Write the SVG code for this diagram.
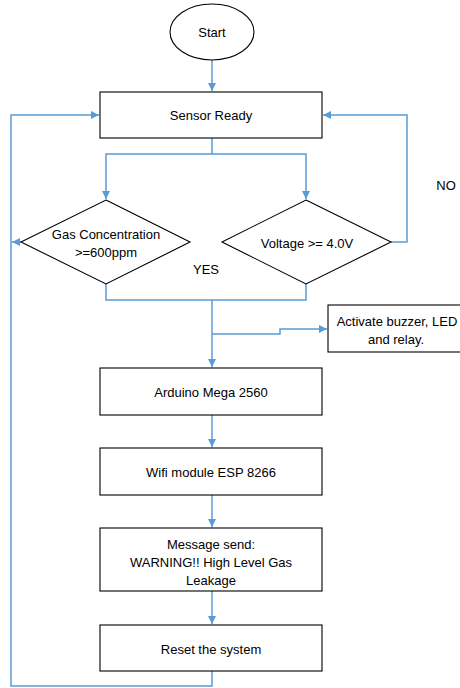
<svg xmlns="http://www.w3.org/2000/svg" width="460" height="688" viewBox="0 0 460 688">
<style>
.n{fill:#fff;stroke:#000;stroke-width:1.1}
.t{font-family:"Liberation Sans",Arial,sans-serif;font-size:13px;fill:#000;text-anchor:middle;dominant-baseline:central}
.c{fill:none;stroke:#5B9BD5;stroke-width:1.5}
</style>
<defs>
<marker id="a" viewBox="0 0 10 10" refX="10" refY="5" markerWidth="8" markerHeight="8" markerUnits="userSpaceOnUse" orient="auto">
<path d="M0,0 L10,5 L0,10 Z" fill="#5B9BD5"/>
</marker>
</defs>
<rect width="460" height="688" fill="#fff"/>
<g id="connectors">
<path class="c" d="M212,60 V91" marker-end="url(#a)"/>
<path class="c" d="M212,138 V154 H106 V199" marker-end="url(#a)"/>
<path class="c" d="M212,154 H306 V199" marker-end="url(#a)"/>
<path class="c" d="M21,242 H12" marker-end="url(#a)"/>
<path class="c" d="M391,242 H407 V115 H323" marker-end="url(#a)"/>
<path class="c" d="M106,284 V300 H306 V284"/>
<path class="c" d="M212,300 V367" marker-end="url(#a)"/>
<path class="c" d="M212,334 H280 V329 H327" marker-end="url(#a)"/>
<path class="c" d="M212,415 V447" marker-end="url(#a)"/>
<path class="c" d="M212,495 V527" marker-end="url(#a)"/>
<path class="c" d="M212,591 V624" marker-end="url(#a)"/>
<path class="c" d="M212,671 V686 H11 V115 H99" marker-end="url(#a)"/>
</g>
<g id="start"><ellipse class="n" cx="212" cy="32" rx="42" ry="28"/><text class="t" x="212" y="32">Start</text></g>
<g id="sensor"><rect class="n" x="100" y="92" width="222" height="46"/><text class="t" x="211" y="115">Sensor Ready</text></g>
<g id="gas"><polygon class="n" points="106,200 190,242 106,284 21,242"/><text class="t" x="106" y="234">Gas Concentration</text><text class="t" x="106" y="252">&gt;=600ppm</text></g>
<g id="voltage"><polygon class="n" points="306,200 391,242 306,284 222,242"/><text class="t" x="307" y="243">Voltage &gt;= 4.0V</text></g>
<g id="no"><text class="t" x="446" y="185">NO</text></g>
<g id="yes"><text class="t" x="206" y="269">YES</text></g>
<g id="activate"><rect class="n" x="328" y="305" width="136" height="47"/><text class="t" x="397" y="321">Activate buzzer, LED</text><text class="t" x="396" y="339">and relay.</text></g>
<g id="arduino"><rect class="n" x="100" y="368" width="222" height="47"/><text class="t" x="211" y="392">Arduino Mega 2560</text></g>
<g id="wifi"><rect class="n" x="100" y="448" width="222" height="47"/><text class="t" x="211" y="472">Wifi module ESP 8266</text></g>
<g id="message"><rect class="n" x="100" y="528" width="222" height="63"/><text class="t" x="211" y="544">Message send:</text><text class="t" x="211" y="562">WARNING!! High Level Gas</text><text class="t" x="211" y="580">Leakage</text></g>
<g id="reset"><rect class="n" x="100" y="625" width="222" height="46"/><text class="t" x="211" y="649">Reset the system</text></g>
</svg>
